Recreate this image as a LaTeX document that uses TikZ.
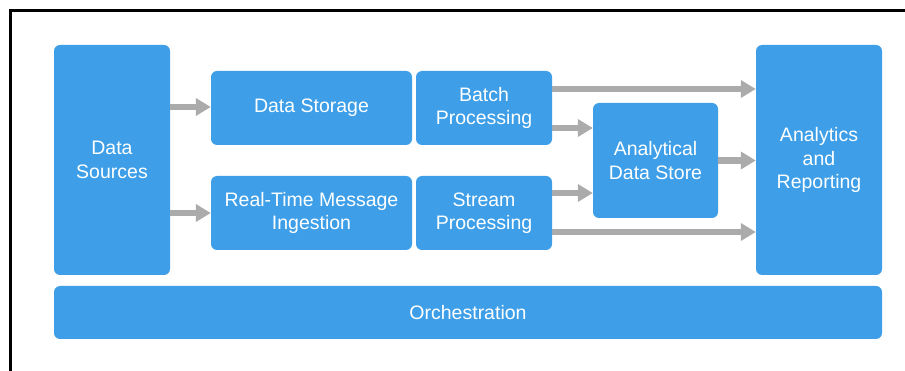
\documentclass[tikz,border=0pt]{standalone}
\usepackage{fontspec}
\setmainfont{Liberation Sans}
\usepackage{tikz}
\usetikzlibrary{arrows.meta}

\definecolor{boxblue}{HTML}{3E9FE8}
\definecolor{flowgray}{HTML}{ABABAB}

\begin{document}
\begin{tikzpicture}[x=1pt, y=-1pt,
		blk/.style={fill=boxblue, rounded corners=6pt, inner sep=0pt, text=white, align=center, font=\fontsize{19.5}{23.5}\selectfont},
		flow/.style={draw=flowgray, line width=6.5pt, -{Triangle[length=15pt, width=17pt]}}]
			\useasboundingbox (0,0) rectangle (905,371);
			\draw[line width=2.5pt] (10.5,10.5) rectangle (940,400);
			
			\node[blk, minimum width=116pt, minimum height=230pt] (src) at (112,160) {Data\\Sources};
			\node[blk, minimum width=201pt, minimum height=74pt] (store) at (311.5,108) {Data Storage};
			\node[blk, minimum width=201pt, minimum height=74pt] (ingest) at (311.5,213) {Real-Time Message\\Ingestion};
			\node[blk, minimum width=136pt, minimum height=74pt] (batch) at (484,108) {Batch\\Processing};
			\node[blk, minimum width=136pt, minimum height=74pt] (stream) at (484,213) {Stream\\Processing};
			\node[blk, minimum width=125pt, minimum height=115pt] (ads) at (655.5,160.5) {Analytical\\Data Store};
			\node[blk, minimum width=126pt, minimum height=230pt] (report) at (819,160) {Analytics\\and\\Reporting};
			\node[blk, minimum width=828pt, minimum height=53pt] (orch) at (468,312.5) {Orchestration};
			
			% start points of the arrows
			\coordinate (s1) at ([yshift=1pt]store.west -| src.east);
			\coordinate (s2) at (ingest.west -| src.east);
			\coordinate (b1) at ([yshift=19pt]batch.east);
			\coordinate (b2) at ([yshift=-20pt]batch.east);
			\coordinate (t1) at ([yshift=20pt]stream.east);
			\coordinate (t2) at ([yshift=-19pt]stream.east);
			
			\draw[flow] (s1) -- (s1 -| store.west);
			\draw[flow] (s2) -- (ingest.west);
			\draw[flow] (b1) -- (b1 -| report.west);
			\draw[flow] (b2) -- (b2 -| ads.west);
			\draw[flow] (t1) -- (t1 -| ads.west);
			\draw[flow] (t2) -- (t2 -| report.west);
			\draw[flow] (ads.east) -- (ads.east -| report.west);
			
		\end{tikzpicture}
\end{document}
